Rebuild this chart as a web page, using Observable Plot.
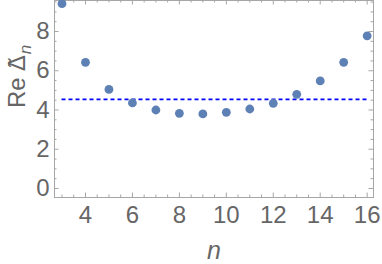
<!DOCTYPE html>
<html>
<head>
<meta charset="utf-8">
<script src="https://cdn.jsdelivr.net/npm/d3@7"></script>
<script src="https://cdn.jsdelivr.net/npm/@observablehq/plot@0.6"></script>
<style>
  html, body { margin: 0; padding: 0; background: #fff; }
  #chart svg { display: block; }
</style>
</head>
<body>
<div id="chart"></div>
<script>
// Data
const nValues = [3, 4, 5, 6, 7, 8, 9, 10, 11, 12, 13, 14, 15, 16];
const reDelta = [9.42, 6.43, 5.05, 4.36, 4.00, 3.83, 3.80, 3.88, 4.05, 4.34, 4.80, 5.48, 6.43, 7.78];
const refLevel = 4.54;
const refSpan = [3, 16];
const xMajorTicks = [4, 6, 8, 10, 12, 14, 16];
const yMajorTicks = [0, 2, 4, 6, 8];
const xDomain = [2.68, 16.27];
const yDomain = [-0.46, 9.58];

const data = nValues.map((n, i) => ({n, v: reDelta[i]}));
const xMinor = d3.range(3, 16.5, 0.5).filter(t => !xMajorTicks.includes(t));
const yMinor = d3.range(-0, 9.6, 0.5).filter(t => !yMajorTicks.includes(t));

const W = 382, H = 264;
const mL = 54, mR = 9, mT = 0, mB = 67;
const innerW = W - mL - mR, innerH = H - mT - mB;
const frameColor = "#a6a6a6";
const textColor = "#666666";

const plot = Plot.plot({
  width: W, height: H,
  marginLeft: mL, marginRight: mR, marginTop: mT, marginBottom: mB,
  style: {fontFamily: "'Liberation Sans', Arial, sans-serif", color: textColor, background: "#fff"},
  x: {domain: xDomain, axis: null},
  y: {domain: yDomain, axis: null},
  marks: [
    Plot.frame({stroke: frameColor, strokeWidth: 1}),
    // bottom ticks
    Plot.tickX(xMajorTicks, {x: d => d, insetTop: innerH - 4.5, stroke: frameColor}),
    Plot.tickX(xMinor, {x: d => d, insetTop: innerH - 2.5, stroke: frameColor}),
    // top ticks
    Plot.tickX(xMajorTicks, {x: d => d, insetBottom: innerH - 4.5, stroke: frameColor}),
    Plot.tickX(xMinor, {x: d => d, insetBottom: innerH - 2.5, stroke: frameColor}),
    // left ticks
    Plot.tickY(yMajorTicks, {y: d => d, insetRight: innerW - 4.5, stroke: frameColor}),
    Plot.tickY(yMinor, {y: d => d, insetRight: innerW - 2.5, stroke: frameColor}),
    // right ticks
    Plot.tickY(yMajorTicks, {y: d => d, insetLeft: innerW - 4.5, stroke: frameColor}),
    Plot.tickY(yMinor, {y: d => d, insetLeft: innerW - 2.5, stroke: frameColor}),
    // tick labels
    Plot.axisX({ticks: xMajorTicks, tickSize: 0, tickPadding: 8, fontSize: 24, label: null, fill: textColor}),
    Plot.axisY({ticks: yMajorTicks, tickSize: 0, tickPadding: 5, fontSize: 24, label: null, fill: textColor}),
    // reference line
    Plot.ruleY([refLevel], {x1: refSpan[0], x2: refSpan[1], stroke: "#0000ff", strokeWidth: 1.8, strokeDasharray: "4,3"}),
    // points
    Plot.dot(data, {x: "n", y: "v", r: 4.4, fill: "#5e81b5", stroke: "none"}),
    // axis labels
    Plot.text(["n"], {frameAnchor: "bottom", dy: 61, text: d => d, fontSize: 25, fontStyle: "italic", fill: textColor}),
    Plot.text(["Re "], {frameAnchor: "left", dx: -37, dy: 9, rotate: -90, text: d => d, fontSize: 24, fill: textColor, ariaLabel: () => "ylabel"})
  ]
});

// y label: Delta with tilde (combining), italic subscript n
const yl = plot.querySelector('text[aria-label="ylabel"]') || plot.querySelector('g[aria-label="ylabel"] text');
if (yl) {
  const NS = "http://www.w3.org/2000/svg";
  yl.setAttribute("xml:space", "preserve");
  yl.style.whiteSpace = "pre";
  const delta = document.createElementNS(NS, "tspan");
  delta.setAttribute("font-family", "'Noto Sans', 'DejaVu Sans', sans-serif");
  delta.textContent = "\u0394\u0303";
  yl.appendChild(delta);
  const sub = document.createElementNS(NS, "tspan");
  sub.setAttribute("font-style", "italic");
  sub.setAttribute("font-size", "17");
  sub.setAttribute("dx", "1");
  sub.setAttribute("dy", "6");
  sub.textContent = "n";
  yl.appendChild(sub);
}

document.getElementById("chart").appendChild(plot);
</script>
</body>
</html>
